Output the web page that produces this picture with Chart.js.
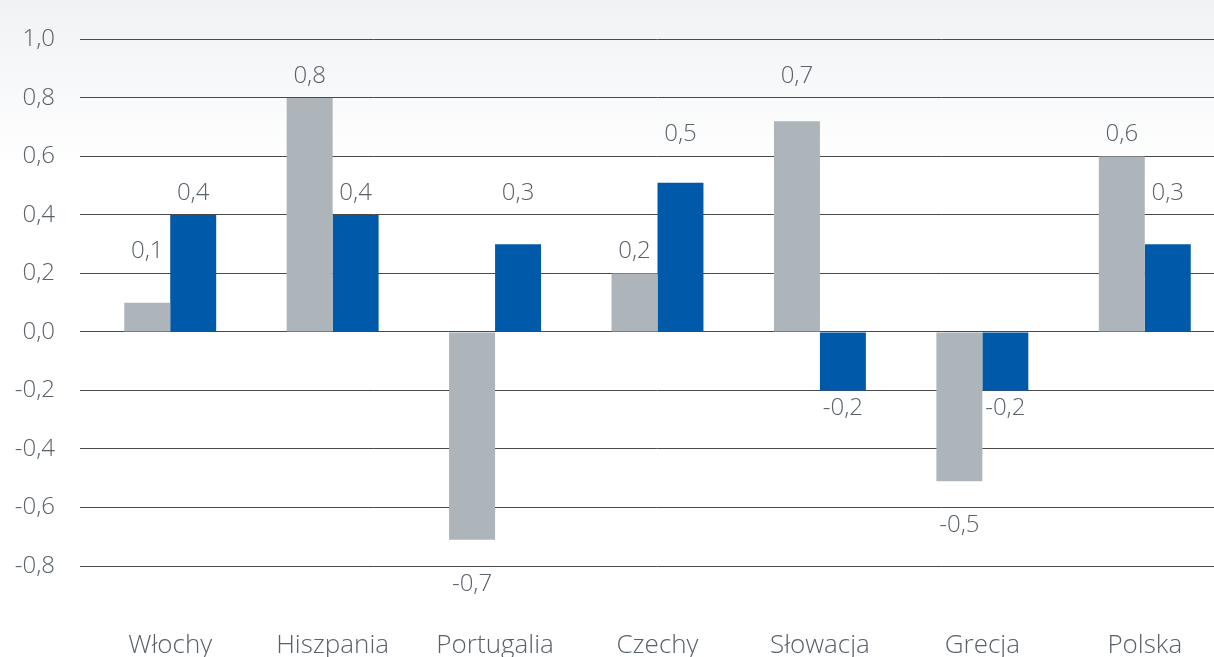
<!DOCTYPE html>
<html>
<head>
<meta charset="utf-8">
<script src="https://cdn.jsdelivr.net/npm/chart.js@4/dist/chart.umd.min.js"></script>
<style>
  html, body { margin: 0; padding: 0; overflow: hidden; background: #fff; width: 1214px; height: 657px; }
  #clip { position: relative; width: 1214px; height: 657px; overflow: hidden; }
  #chart { position: absolute; left: 0; top: 0; }
</style>
</head>
<body>
<div id="clip"><canvas id="chart" width="1230" height="680"></canvas></div>
<script>
const categories = ['Włochy', 'Hiszpania', 'Portugalia', 'Czechy', 'Słowacja', 'Grecja', 'Polska'];
const seriesGray = [0.1, 0.8, -0.71, 0.2, 0.72, -0.51, 0.6];
const seriesBlue = [0.4, 0.4, 0.3, 0.51, -0.2, -0.2, 0.3];
const yMin = -0.8;
const yMax = 1.0;
const yStep = 0.2;

const textColor = '#59616a';
const fontFamily = "'Open Sans', sans-serif";

function fmt(v) {
  return v.toFixed(1).replace('.', ',').replace('-0,0', '0,0');
}

// tło z delikatnym gradientem u góry
const bgPlugin = {
  id: 'bg',
  beforeDraw(chart) {
    const ctx = chart.ctx;
    const g = ctx.createLinearGradient(0, 0, 0, 170);
    g.addColorStop(0, '#f0f2f4');
    g.addColorStop(1, '#ffffff');
    ctx.save();
    ctx.fillStyle = g;
    ctx.fillRect(0, 0, chart.width, chart.height);
    ctx.restore();
  }
};

// etykiety wartości nad / pod słupkami
const valueLabels = {
  id: 'valueLabels',
  afterDatasetsDraw(chart) {
    const ctx = chart.ctx;
    const y = chart.scales.y;
    ctx.save();
    ctx.font = `300 24px ${fontFamily}`;
    ctx.fillStyle = textColor;
    ctx.textAlign = 'center';
    ctx.textBaseline = 'middle';
    chart.data.datasets.forEach((ds, i) => {
      chart.getDatasetMeta(i).data.forEach((bar, j) => {
        const v = ds.data[j];
        let py;
        if (v >= 0) {
          const anchor = Math.ceil(v / yStep - 1e-6) * yStep;
          py = y.getPixelForValue(anchor) - 22;
        } else {
          const anchor = Math.floor(v / yStep + 1e-6) * yStep;
          py = y.getPixelForValue(anchor) + 18;
        }
        ctx.fillText(fmt(v), bar.x, py);
      });
    });
    ctx.restore();
  }
};

new Chart(document.getElementById('chart'), {
  type: 'bar',
  data: {
    labels: categories,
    datasets: [
      { label: 'Seria 1', data: seriesGray, backgroundColor: '#adb4ba', categoryPercentage: 0.566, barPercentage: 1 },
      { label: 'Seria 2', data: seriesBlue, backgroundColor: '#005aa9', categoryPercentage: 0.566, barPercentage: 1 }
    ]
  },
  options: {
    responsive: false,
    animation: false,
    layout: { padding: { top: 39, right: 4, left: 0, bottom: 0 } },
    plugins: {
      legend: { display: false },
      tooltip: { enabled: false }
    },
    scales: {
      x: {
        // odstęp etykiet w dół przez (niewidoczną) długość kreski, żeby nie psuć szerokości
        grid: { display: true, drawOnChartArea: false, drawTicks: true, tickLength: 64, tickColor: 'rgba(0,0,0,0)' },
        border: { display: false },
        ticks: {
          color: textColor,
          font: { family: fontFamily, size: 26, weight: 300 },
          padding: 0,
          maxRotation: 0
        },
        afterFit(scale) { scale.height = 114; }
      },
      y: {
        min: yMin,
        max: yMax,
        grid: { color: '#4a4a4a', lineWidth: 1, drawTicks: true, tickLength: 9, tickColor: '#4a4a4a' },
        border: { display: false },
        ticks: {
          stepSize: yStep,
          color: textColor,
          font: { family: fontFamily, size: 24, weight: 300 },
          padding: 25,
          callback: v => fmt(v)
        },
        afterFit(scale) { scale.width = 89; }
      }
    }
  },
  plugins: [bgPlugin, valueLabels]
});
</script>
</body>
</html>
